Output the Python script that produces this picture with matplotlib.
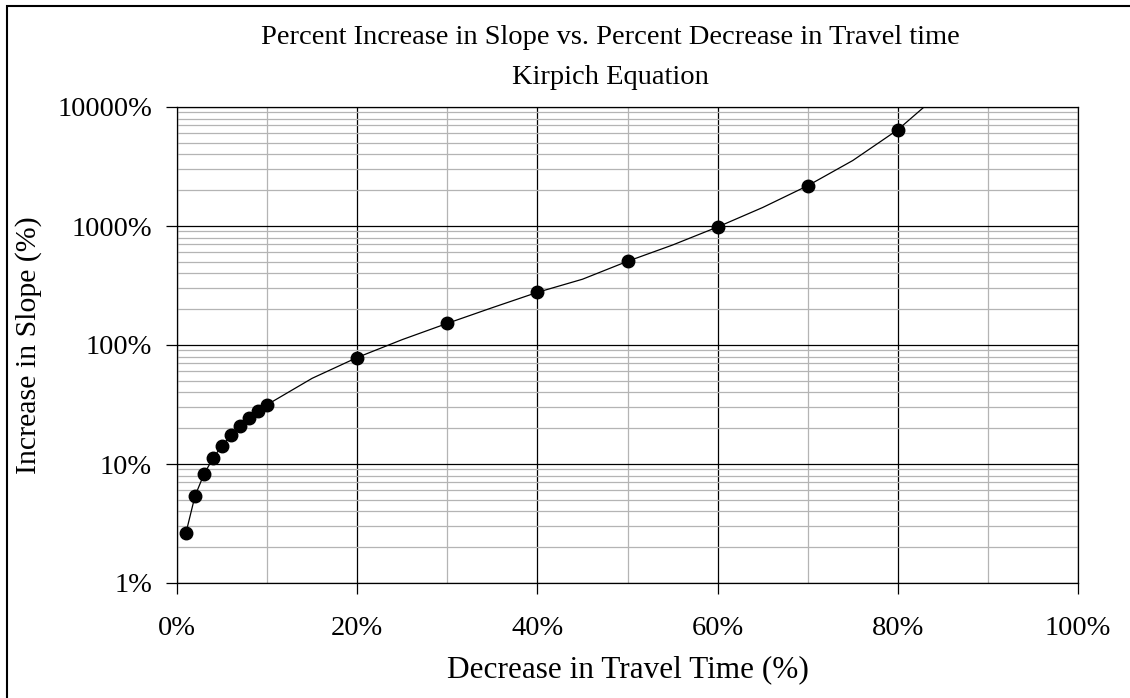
import matplotlib.pyplot as plt
from matplotlib.ticker import MultipleLocator, FuncFormatter, LogLocator
from matplotlib.patches import Rectangle

plt.rcParams['font.family'] = ['Liberation Serif', 'DejaVu Serif']

# Kirpich equation: travel time decrease (%) vs slope increase (%)
curve_x = [1, 2, 3, 4, 5, 6, 7, 8, 9, 10, 15, 20, 25, 30, 35, 40, 45,
           50, 55, 60, 65, 70, 75, 80, 85, 90]
curve_y = [2.65, 5.39, 8.23, 11.2, 14.3, 17.4, 20.7, 24.2, 27.8, 31.5,
           52.5, 78.5, 111, 152, 206, 277, 357, 505, 692, 981, 1430,
           2180, 3550, 6440, 13700, 39500]

point_x = [1, 2, 3, 4, 5, 6, 7, 8, 9, 10, 20, 30, 40, 50, 60, 70, 80]
point_y = [2.65, 5.39, 8.23, 11.2, 14.3, 17.4, 20.7, 24.2, 27.8, 31.5,
           78.5, 152, 277, 505, 981, 2180, 6440]

fig = plt.figure(figsize=(11.3, 6.98), dpi=100)
ax = fig.add_axes([177 / 1130, 1 - 583 / 698, 901 / 1130, 476 / 698])

ax.plot(curve_x, curve_y, color='black', lw=0.9, zorder=3)
ax.plot(point_x, point_y, 'o', color='black', ms=9, zorder=4)

ax.set_yscale('log')
ax.set_xlim(0, 100)
ax.set_ylim(1, 10000)

ax.xaxis.set_major_locator(MultipleLocator(20))
ax.xaxis.set_minor_locator(MultipleLocator(10))
ax.yaxis.set_major_locator(LogLocator(base=10, numticks=10))
ax.yaxis.set_minor_locator(LogLocator(base=10, subs=range(2, 10), numticks=20))
ax.xaxis.set_major_formatter(FuncFormatter(lambda v, p: f'{v:.0f}%'))
ax.yaxis.set_major_formatter(FuncFormatter(lambda v, p: f'{v:.0f}%'))
ax.yaxis.set_minor_formatter(FuncFormatter(lambda v, p: ''))

ax.grid(True, which='major', color='black', lw=0.9, zorder=1)
ax.grid(True, which='minor', color='#b4b4b4', lw=0.9, zorder=0)
ax.set_axisbelow(True)

ax.tick_params(which='major', direction='out', length=8, width=0.9,
               labelsize=20.5, pad=10, colors='black')
ax.tick_params(axis='x', which='major', pad=16)
ax.tick_params(which='minor', length=0)
for s in ax.spines.values():
    s.set_color('black')
    s.set_linewidth(0.9)

ax.set_xlabel('Decrease in Travel Time (%)', fontsize=22.5, labelpad=10)
ax.set_ylabel('Increase in Slope (%)', fontsize=21.5, labelpad=11)

fig.text(610 / 1130, 1 - 37 / 698, 'Percent Increase in Slope vs. Percent Decrease in Travel time',
         ha='center', va='center', fontsize=20.5)
fig.text(610 / 1130, 1 - 77 / 698, 'Kirpich Equation', ha='center', va='center', fontsize=20.5)

fig.patches.append(Rectangle((7 / 1130, -0.1), 1.2, 1.1 - 6 / 698,
                             transform=fig.transFigure, fill=False,
                             edgecolor='black', lw=1.5))

fig.savefig('out.png', dpi=100)
